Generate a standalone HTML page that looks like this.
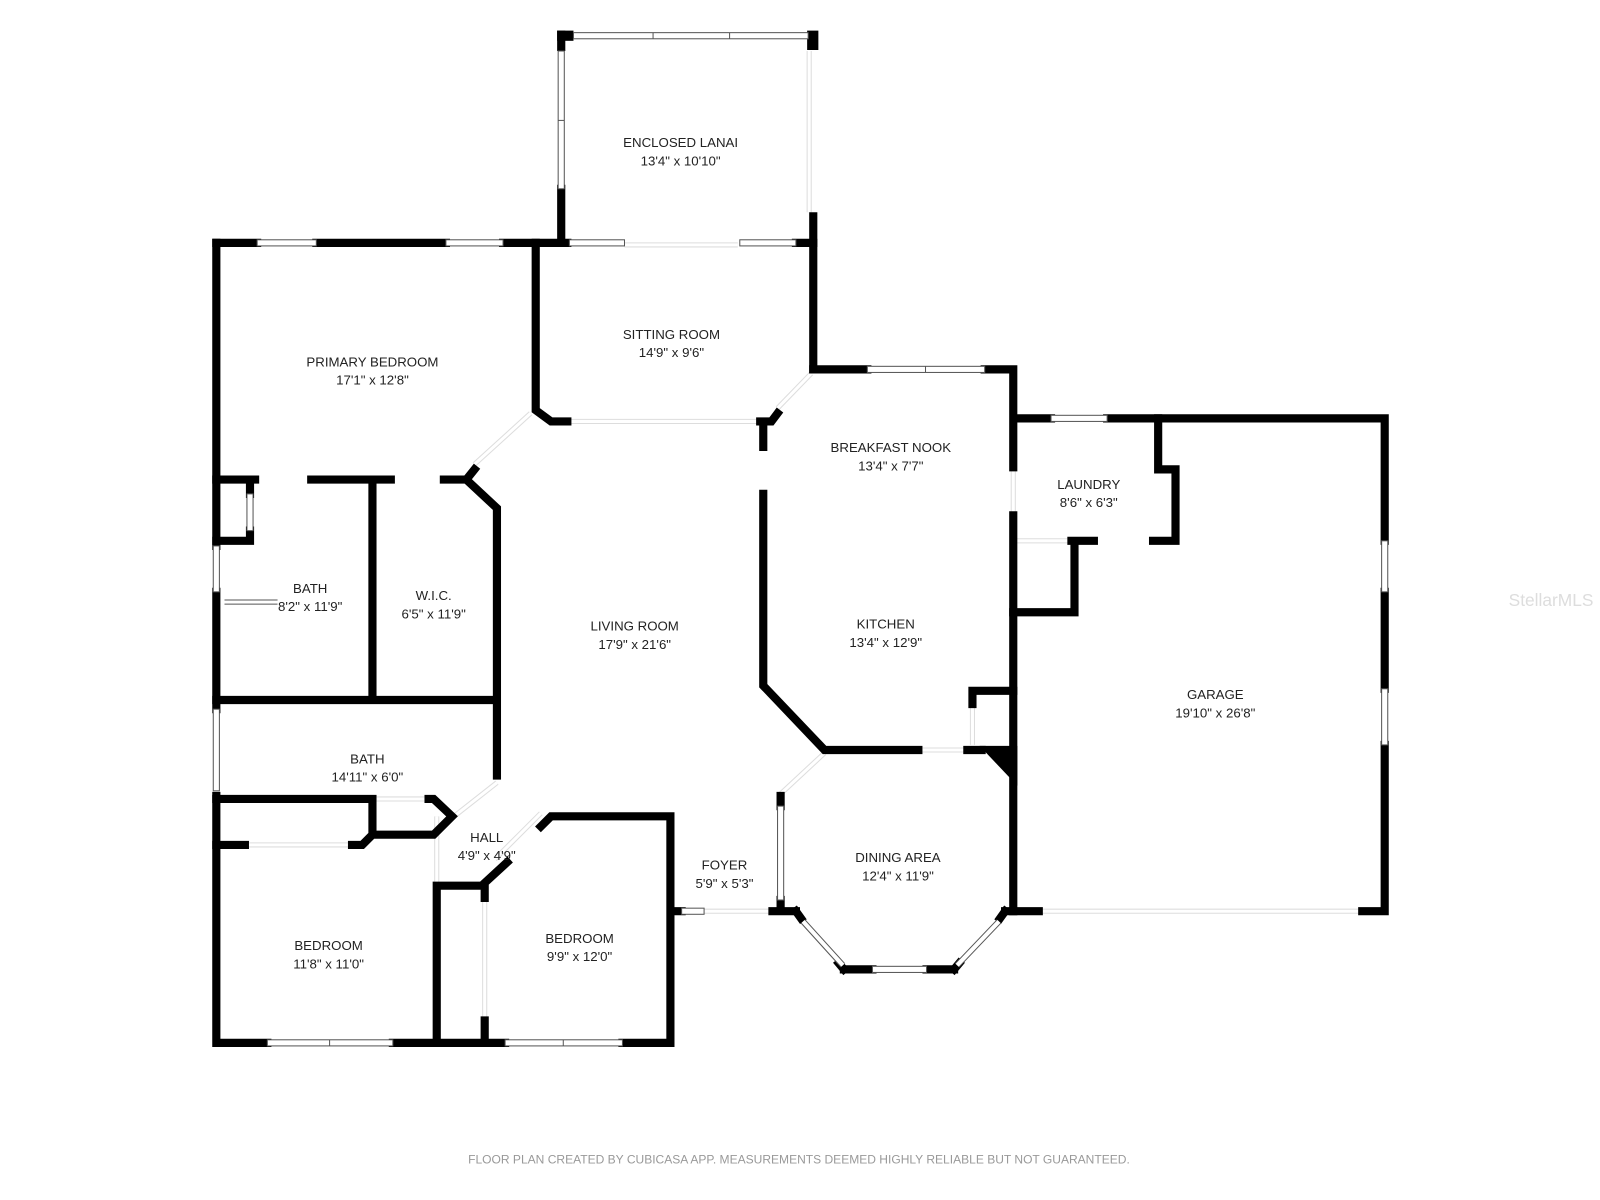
<!DOCTYPE html>
<html><head><meta charset="utf-8"><style>
html,body{margin:0;padding:0;background:#fff;}
svg{display:block;}
text{font-family:"Liberation Sans",sans-serif;fill:#222;font-size:13px;text-anchor:middle;}
.w{stroke:#000;stroke-width:8;fill:none;stroke-linecap:square;stroke-linejoin:miter;}
.g{stroke:#ddd;stroke-width:5;fill:none;}
.gi{stroke:#fff;stroke-width:3;fill:none;}
.win{fill:#fff;stroke:#555;stroke-width:1;}
</style></head><body>
<svg width="1600" height="1200" viewBox="0 0 1568 1176" preserveAspectRatio="none">
<g>
<path class="g" d="M556 413H745 M612 240H723 M762 400L795 366 M793 50V208 M465 455L520 405 M993 458V505 M900 735H948 M765 778L808 738 M690 893H757 M1018 893H1335 M993 530H1050 M445 800L487 767 M485 842L530 797 M428 800V865 M365 783H420 M240 828H345 M953 690V730 M475 880V1000"/>
<path class="gi" d="M556 413H745 M612 240H723 M762 400L795 366 M793 50V208 M465 455L520 405 M993 458V505 M900 735H948 M765 778L808 738 M690 893H757 M1018 893H1335 M993 530H1050 M445 800L487 767 M485 842L530 797 M428 800V865 M365 783H420 M240 828H345 M953 690V730 M475 880V1000"/>
<rect x="546" y="30" width="16" height="10" fill="#000"/>
<rect x="546" y="30" width="8" height="20" fill="#000"/>
<rect x="791" y="30" width="11" height="19" fill="#000"/>
<path class="w" d="M550 185V238 M797 212V362"/>
<path class="w" d="M212 238H252 M310 238H437 M493 238H556 M780 238H797"/>
<path class="w" d="M212 238V535 M212 580V695 M212 780V1022H262 M385 1022H495 M610 1022H657V800H540L530 810"/>
<path class="w" d="M525 238V402L540 413H556 M745 413H756L762 405 M748 418V438 M748 484V672L808 735H900 M948 735H962"/>
<path class="w" d="M797 362H850 M965 362H993V458 M993 505V893H1018 M1335 893H1357V730 M1357 675V580 M1357 530V410H1085 M1030 410H993"/>
<path class="w" d="M1135 410V460H1152V530H1130 M1050 530H1072 M1053 530V600H993 M953 690V677H993"/>
<path class="w" d="M765 780V790 M765 882V893H780 M757 893H765 M985 893H993 M660 893H668 M827 950H855 M908 950H935"/>
<path d="M960 731H997V770Z" fill="#000"/>
<path class="w" d="M212 470H250 M305 470H383 M435 470H457L487 498V760 M457 470L465 460 M212 530H245V520 M245 484V470 M365 470V686 M212 686H487"/>
<path class="w" d="M212 783H365V818H425L443 800L425 783H420 M212 828H240 M345 828H355L365 818 M428 1022V868H472L497 845 M475 868V880 M475 1000V1022"/>
<path class="w" d="M780 893L785 900 M827 950L822 944 M935 950L940 944 M985 893L980 900"/>
<rect class="win" x="562" y="32" width="230" height="6"/>
<line x1="640" y1="32" x2="640" y2="38" stroke="#555"/><line x1="715" y1="32" x2="715" y2="38" stroke="#555"/>
<rect class="win" x="547" y="50" width="6" height="135"/><line x1="547" y1="118" x2="553" y2="118" stroke="#555"/>
<rect class="win" x="252" y="235" width="58" height="6"/>
<rect class="win" x="437" y="235" width="56" height="6"/>
<rect class="win" x="558" y="235" width="54" height="6"/>
<rect class="win" x="725" y="235" width="55" height="6"/>
<rect class="win" x="209" y="535" width="6" height="45"/>
<rect class="win" x="209" y="695" width="6" height="80"/>
<rect class="win" x="242" y="484" width="6" height="36"/>
<rect class="win" x="262" y="1019" width="123" height="6"/><line x1="323" y1="1019" x2="323" y2="1025" stroke="#555"/>
<rect class="win" x="495" y="1019" width="115" height="6"/><line x1="552" y1="1019" x2="552" y2="1025" stroke="#555"/>
<rect class="win" x="850" y="359" width="115" height="6"/><line x1="907" y1="359" x2="907" y2="365" stroke="#555"/>
<rect class="win" x="1030" y="407" width="55" height="6"/>
<rect class="win" x="1354" y="530" width="6" height="50"/>
<rect class="win" x="1354" y="675" width="6" height="55"/>
<rect class="win" x="762" y="790" width="6" height="92"/>
<rect class="win" x="855" y="947" width="53" height="6"/>
<rect class="win" x="668" y="890" width="22" height="6"/>
<line x1="787" y1="903" x2="826" y2="946" stroke="#555" stroke-width="6"/><line x1="787" y1="903" x2="826" y2="946" stroke="#fff" stroke-width="4"/>
<line x1="938" y1="946" x2="979" y2="903" stroke="#555" stroke-width="6"/><line x1="938" y1="946" x2="979" y2="903" stroke="#fff" stroke-width="4"/>
<line x1="220" y1="588" x2="272" y2="588" stroke="#555" stroke-width="1"/><line x1="220" y1="592" x2="272" y2="592" stroke="#555" stroke-width="1"/>
</g>
<text x="667" y="144">ENCLOSED LANAI</text><text x="667" y="162">13'4" x 10'10"</text>
<text x="658" y="332">SITTING ROOM</text><text x="658" y="350">14'9" x 9'6"</text>
<text x="365" y="359">PRIMARY BEDROOM</text><text x="365" y="377">17'1" x 12'8"</text>
<text x="873" y="443">BREAKFAST NOOK</text><text x="873" y="461">13'4" x 7'7"</text>
<text x="1067" y="479">LAUNDRY</text><text x="1067" y="497">8'6" x 6'3"</text>
<text x="304" y="581">BATH</text><text x="304" y="599">8'2" x 11'9"</text>
<text x="425" y="588">W.I.C.</text><text x="425" y="606">6'5" x 11'9"</text>
<text x="622" y="618">LIVING ROOM</text><text x="622" y="636">17'9" x 21'6"</text>
<text x="868" y="616">KITCHEN</text><text x="868" y="634">13'4" x 12'9"</text>
<text x="1191" y="685">GARAGE</text><text x="1191" y="703">19'10" x 26'8"</text>
<text x="360" y="748">BATH</text><text x="360" y="766">14'11" x 6'0"</text>
<text x="477" y="825">HALL</text><text x="477" y="843">4'9" x 4'9"</text>
<text x="710" y="852">FOYER</text><text x="710" y="870">5'9" x 5'3"</text>
<text x="880" y="845">DINING AREA</text><text x="880" y="863">12'4" x 11'9"</text>
<text x="322" y="931">BEDROOM</text><text x="322" y="949">11'8" x 11'0"</text>
<text x="568" y="924">BEDROOM</text><text x="568" y="942">9'9" x 12'0"</text>
<text x="783" y="1140" style="font-size:11.8px;fill:#999">FLOOR PLAN CREATED BY CUBICASA APP. MEASUREMENTS DEEMED HIGHLY RELIABLE BUT NOT GUARANTEED.</text>
<text x="1520" y="594" style="font-size:17px;fill:#ddd">StellarMLS</text>
</svg>
</body></html>
